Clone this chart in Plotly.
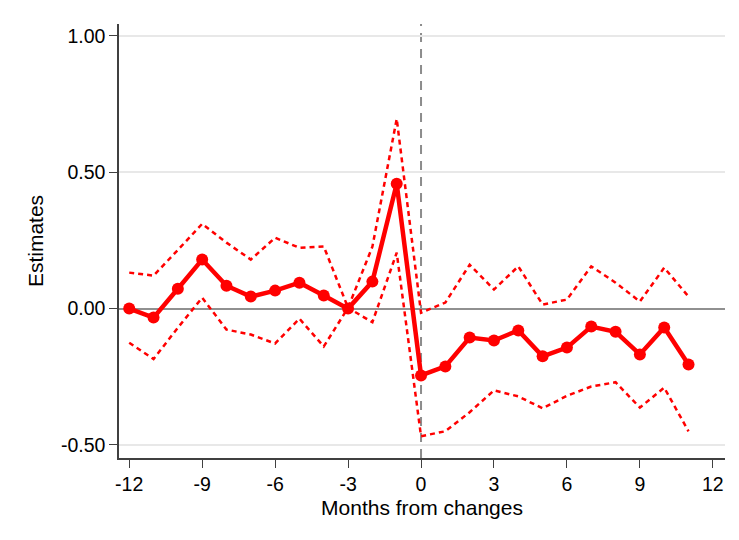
import plotly.graph_objects as go

months = list(range(-12, 12))
estimate = [0.0, -0.033, 0.073, 0.18, 0.084, 0.044, 0.066, 0.095, 0.048, 0.0, 0.099, 0.458,
            -0.245, -0.212, -0.106, -0.117, -0.08, -0.175, -0.143, -0.066, -0.085, -0.168, -0.069, -0.205]
upper_ci = [0.132, 0.121, 0.215, 0.311, 0.242, 0.18, 0.26, 0.223, 0.228, 0.003, 0.227, 0.696,
            -0.015, 0.022, 0.161, 0.07, 0.155, 0.015, 0.033, 0.155, 0.095, 0.026, 0.15, 0.044]
lower_ci = [-0.125, -0.185, -0.07, 0.04, -0.077, -0.095, -0.128, -0.037, -0.139, 0.003, -0.05, 0.205,
            -0.468, -0.45, -0.38, -0.30, -0.322, -0.366, -0.32, -0.286, -0.27, -0.363, -0.29, -0.45]

x_ticks = [-12, -9, -6, -3, 0, 3, 6, 9, 12]
x_ticktext = ["-12", "-9", "-6", "-3", "0", "3", "6", "9", "12"]
y_ticks = [-0.5, 0.0, 0.5, 1.0]
y_ticktext = ["-0.50", "0.00", "0.50", "1.00"]

red = "#ff0000"
fig = go.Figure()
fig.add_trace(go.Scatter(x=months, y=upper_ci, mode="lines",
                         line=dict(color=red, width=2.5, dash="5px,4px"), showlegend=False))
fig.add_trace(go.Scatter(x=months, y=lower_ci, mode="lines",
                         line=dict(color=red, width=2.5, dash="5px,4px"), showlegend=False))
fig.add_trace(go.Scatter(x=months, y=estimate, mode="lines+markers",
                         line=dict(color=red, width=4.5),
                         marker=dict(color=red, size=12), showlegend=False))

fig.add_shape(type="line", xref="x", yref="paper", x0=0, x1=0, y0=0, y1=1,
              line=dict(color="#8c8c8c", width=2, dash="9px,7px"), layer="below")

# page body has an 8px margin; margins are offset to compensate
fig.update_layout(
    width=739, height=540,
    margin=dict(l=111, r=22, t=16, b=90),
    paper_bgcolor="white", plot_bgcolor="white",
    font=dict(family="Liberation Sans, Arial, sans-serif", size=19.5, color="#000000"),
    xaxis=dict(range=[-12.42, 12.5], tickvals=x_ticks, ticktext=x_ticktext,
               showgrid=False, zeroline=False, showline=True, linecolor="#404040",
               linewidth=1.5, ticks="outside", ticklen=8, tickcolor="#404040",
               automargin=False,
               title=dict(text="Months from changes", font=dict(size=21), standoff=6)),
    yaxis=dict(range=[-0.548, 1.044], tickvals=y_ticks, ticktext=y_ticktext,
               showgrid=True, gridcolor="#e8e8e8", gridwidth=1.5,
               zeroline=True, zerolinecolor="#909090", zerolinewidth=1.5,
               showline=True, linecolor="#404040", linewidth=1.5,
               ticks="outside", ticklen=8, tickcolor="#404040",
               automargin=False,
               title=dict(text="Estimates", font=dict(size=21), standoff=12)),
)

fig.write_html("out.html")
